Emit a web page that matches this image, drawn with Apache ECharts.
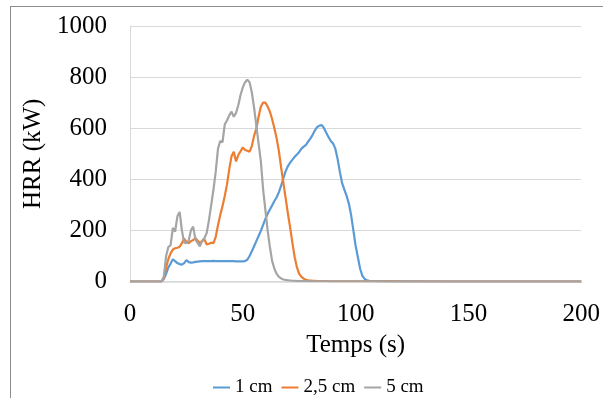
<!DOCTYPE html>
<html>
<head>
<meta charset="utf-8">
<script src="https://cdn.jsdelivr.net/npm/echarts@6/dist/echarts.min.js"></script>
<style>
html,body{margin:0;padding:0;background:#fff;}
#frame{position:absolute;left:10px;top:6px;width:620px;height:420px;border:1.5px solid #8c8c8c;box-sizing:border-box;}
#chart{position:absolute;left:0;top:0;width:603px;height:398px;}
</style>
</head>
<body>
<div id="frame"></div>
<div id="chart"></div>
<script>
// Time (s)
var times = [0,5,10,12,13,14,15,16,17,18,19,20,21,22,23,24,25,26,27,28,29,30,31,32,33,34,35,36,37,38,39,40,41,42,43,44,45,46,47,48,49,50,51,52,53,54,55,56,57,58,59,60,61,62,63,64,65,66,67,68,69,70,71,72,73,74,75,76,77,78,79,80,81,82,83,84,85,86,87,88,89,90,91,92,93,94,95,96,97,98,99,100,101,102,103,104,105,106,107,108,109,110,115,120,140,160,180,200];
// HRR (kW)
var hrr1cm = [0,0,0,0,0,0,10,30,55,70,87,80,72,68,66,72,84,76,74,75,77,78,79,80,80,80,80,80,81,80,80,80,80,80,80,80,80,80,79,79,79,79,80,85,100,118,138,158,178,198,222,245,265,282,298,315,330,350,375,405,432,452,465,477,488,497,507,520,528,535,548,560,575,592,605,610,612,600,582,565,550,540,520,480,430,385,360,335,305,260,200,140,95,50,22,10,5,3,2,2,1,1,1,1,0,0,0,0];
var hrr25cm = [0,0,0,0,0,0,15,55,88,110,125,130,132,136,150,168,155,150,158,162,170,160,150,158,165,145,148,152,150,175,220,260,295,335,380,440,490,508,470,495,510,525,515,512,508,530,570,600,645,685,700,700,685,665,635,600,560,510,445,385,325,265,210,150,95,55,30,18,11,7,5,4,3,3,2,2,2,2,2,1,1,1,1,1,1,1,1,1,1,1,1,1,1,1,1,1,1,1,1,1,1,1,1,0,0,0,0,0];
var hrr5cm = [0,0,0,0,0,0,20,100,135,142,210,195,255,272,200,152,150,160,200,215,165,150,138,160,170,190,240,300,360,430,520,550,545,615,630,650,665,645,660,690,730,760,780,790,780,740,680,610,540,470,360,280,200,135,80,50,30,18,12,8,6,5,4,3,3,2,2,2,2,2,1,1,1,1,1,1,1,1,1,1,1,1,1,1,1,1,1,1,1,1,1,1,1,1,1,1,1,1,1,1,1,1,0,0,0,0,0,0];
var seriesNames = ['1 cm','2,5 cm','5 cm'];
var colors = ['#5B9BD5','#ED7D31','#A5A5A5'];

function pairs(vals){ return times.map(function(t,i){ return [t, vals[i]]; }); }

var font = '"Liberation Serif","Times New Roman",serif';
var chart = echarts.init(document.getElementById('chart'), null, {renderer:'canvas'});
chart.setOption({
  animation:false,
  color: colors,
  grid:{left:130, right:19, top:26, bottom:116.5, containLabel:false},
  legend:{
    data: seriesNames,
    top: 373,
    left: 208,
    itemWidth: 17, itemHeight: 2, itemGap: 9,
    icon: 'rect',
    textStyle:{fontFamily:font, fontSize:19, color:'#000'}
  },
  xAxis:{
    type:'value', min:0, max:200, interval:50,
    name:'Temps (s)', nameLocation:'middle', nameGap:51,
    nameTextStyle:{fontFamily:font, fontSize:25, color:'#000'},
    axisLine:{show:true, lineStyle:{color:'#D9D9D9', width:1.5}},
    axisTick:{show:false},
    splitLine:{show:false},
    axisLabel:{fontFamily:font, fontSize:25, color:'#000', margin:20}
  },
  yAxis:{
    type:'value', min:0, max:1000, interval:200,
    name:'HRR (kW)', nameLocation:'middle', nameGap:67, nameRotate:90,
    nameTextStyle:{fontFamily:font, fontSize:25, color:'#000'},
    axisLine:{show:true, lineStyle:{color:'#D9D9D9', width:1}},
    axisTick:{show:false},
    splitLine:{show:true, lineStyle:{color:'#D9D9D9', width:1}},
    axisLabel:{fontFamily:font, fontSize:25, color:'#000', margin:23, formatter:function(v){return String(v);}}
  },
  series:[
    {name:seriesNames[0], type:'line', data:pairs(hrr1cm), showSymbol:false, lineStyle:{width:2.2, color:colors[0]}, itemStyle:{color:colors[0]}},
    {name:seriesNames[1], type:'line', data:pairs(hrr25cm), showSymbol:false, lineStyle:{width:2.2, color:colors[1]}, itemStyle:{color:colors[1]}},
    {name:seriesNames[2], type:'line', data:pairs(hrr5cm), showSymbol:false, lineStyle:{width:2.2, color:colors[2]}, itemStyle:{color:colors[2]}}
  ]
});
</script>
</body>
</html>
